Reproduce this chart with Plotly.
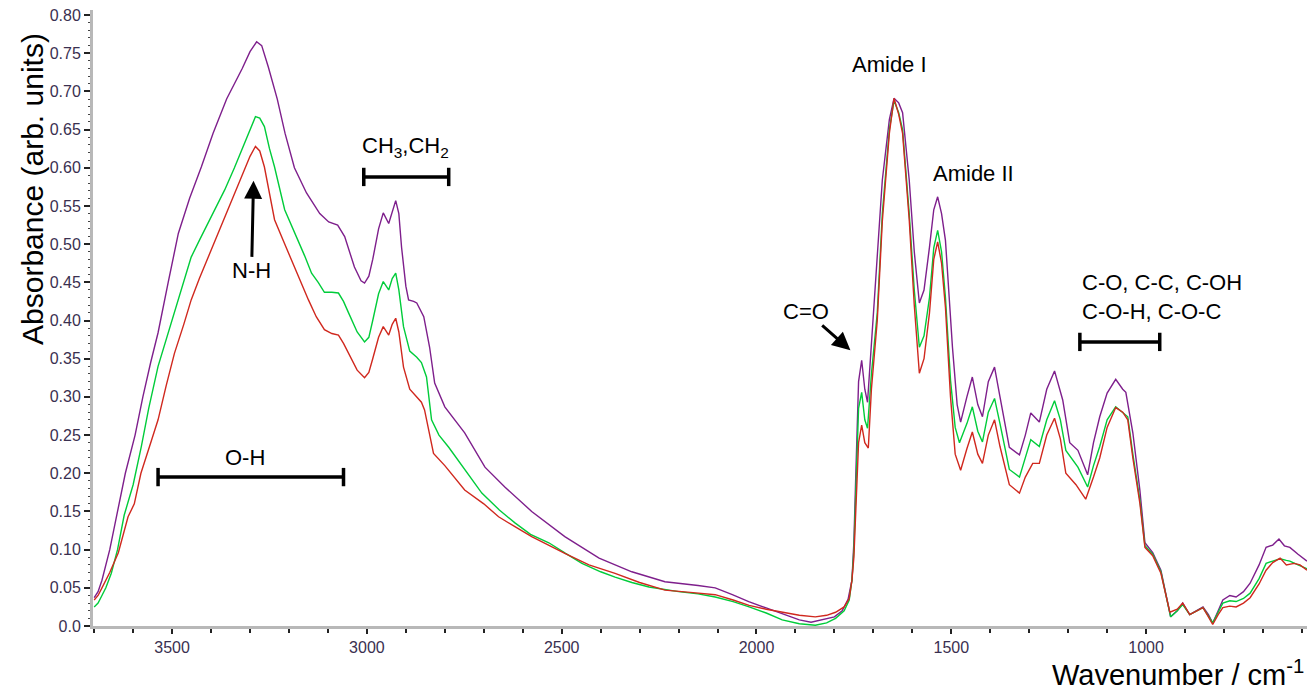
import plotly.graph_objects as go

# ---------------- data ----------------
wn_purple = [3700, 3690, 3680, 3670, 3660, 3640, 3620, 3595, 3575, 3555, 3536, 3510, 3484, 3455, 3425, 3395,
             3360, 3320, 3300, 3283, 3270, 3253, 3230, 3210, 3186, 3155, 3121, 3098, 3075, 3057, 3032, 3015,
             3006, 2995, 2985, 2970, 2958, 2944, 2934, 2926, 2918, 2911, 2900, 2893, 2880, 2872, 2854, 2839,
             2826, 2800, 2749, 2697, 2646, 2577, 2492, 2404, 2320, 2235, 2150, 2106, 2062, 2020, 1977, 1930,
             1890, 1860, 1830, 1800, 1780, 1765, 1755, 1750, 1745, 1738, 1730, 1722, 1715, 1705, 1694, 1677,
             1659, 1647, 1635, 1625, 1608, 1595, 1582, 1570, 1556, 1545, 1535, 1525, 1515, 1497, 1485, 1476,
             1460, 1446, 1432, 1420, 1405, 1389, 1375, 1351, 1325, 1310, 1296, 1274, 1255, 1235, 1214, 1196,
             1175, 1150, 1135, 1119, 1100, 1078, 1060, 1052, 1034, 1016, 1003, 983, 962, 945, 937, 920, 906,
             888, 870, 854, 840, 829, 815, 803, 785, 769, 750, 733, 710, 692, 675, 659, 645, 631, 610, 592, 587]
abs_purple = [0.037, 0.045, 0.060, 0.080, 0.100, 0.150, 0.200, 0.250, 0.300, 0.345, 0.384, 0.450, 0.514, 0.560,
              0.601, 0.645, 0.690, 0.730, 0.752, 0.765, 0.760, 0.732, 0.690, 0.645, 0.600, 0.567, 0.540, 0.529,
              0.525, 0.510, 0.470, 0.452, 0.449, 0.458, 0.480, 0.520, 0.541, 0.527, 0.545, 0.557, 0.540, 0.496,
              0.445, 0.427, 0.425, 0.423, 0.405, 0.365, 0.318, 0.287, 0.253, 0.208, 0.182, 0.150, 0.117, 0.089,
              0.071, 0.058, 0.053, 0.050, 0.041, 0.032, 0.024, 0.015, 0.008, 0.005, 0.008, 0.012, 0.020, 0.035,
              0.060, 0.110, 0.200, 0.320, 0.348, 0.310, 0.293, 0.370, 0.453, 0.584, 0.663, 0.691, 0.685, 0.672,
              0.584, 0.490, 0.423, 0.440, 0.496, 0.545, 0.562, 0.540, 0.505, 0.365, 0.290, 0.267, 0.300, 0.326,
              0.290, 0.274, 0.320, 0.339, 0.300, 0.234, 0.224, 0.250, 0.279, 0.267, 0.310, 0.334, 0.296, 0.240,
              0.230, 0.198, 0.240, 0.274, 0.305, 0.323, 0.310, 0.306, 0.253, 0.178, 0.109, 0.096, 0.073, 0.030,
              0.012, 0.020, 0.030, 0.015, 0.020, 0.025, 0.015, 0.004, 0.020, 0.034, 0.040, 0.038, 0.045, 0.056,
              0.080, 0.103, 0.106, 0.114, 0.105, 0.103, 0.094, 0.086, 0.085]

wn_green = [3700, 3690, 3680, 3670, 3656, 3640, 3623, 3600, 3579, 3560, 3536, 3515, 3494, 3470, 3451, 3430,
            3407, 3385, 3365, 3340, 3322, 3300, 3286, 3275, 3263, 3250, 3237, 3211, 3190, 3176, 3160, 3142,
            3125, 3109, 3090, 3073, 3060, 3047, 3025, 3006, 2995, 2985, 2970, 2958, 2944, 2935, 2926, 2918,
            2906, 2890, 2872, 2860, 2847, 2834, 2815, 2790, 2750, 2705, 2660, 2620, 2580, 2533, 2490, 2448,
            2400, 2363, 2320, 2276, 2200, 2150, 2106, 2060, 2019, 1975, 1934, 1890, 1849, 1820, 1797, 1775,
            1762, 1755, 1750, 1745, 1738, 1730, 1722, 1715, 1705, 1690, 1677, 1659, 1647, 1635, 1625, 1608,
            1595, 1582, 1570, 1556, 1545, 1535, 1525, 1515, 1502, 1490, 1479, 1460, 1446, 1432, 1420, 1405,
            1389, 1375, 1351, 1325, 1310, 1296, 1274, 1255, 1235, 1220, 1206, 1175, 1150, 1135, 1119, 1100,
            1078, 1060, 1047, 1034, 1016, 1003, 983, 962, 945, 937, 920, 906, 888, 870, 854, 840, 829, 815,
            803, 785, 769, 750, 733, 710, 692, 675, 656, 640, 631, 610, 592, 587]
abs_green = [0.025, 0.030, 0.040, 0.050, 0.069, 0.100, 0.145, 0.185, 0.235, 0.285, 0.340, 0.375, 0.410, 0.450,
             0.483, 0.505, 0.528, 0.550, 0.571, 0.600, 0.623, 0.650, 0.667, 0.665, 0.654, 0.625, 0.601, 0.545,
             0.520, 0.505, 0.485, 0.462, 0.450, 0.437, 0.437, 0.436, 0.425, 0.410, 0.385, 0.372, 0.378, 0.400,
             0.435, 0.451, 0.440, 0.455, 0.462, 0.440, 0.392, 0.360, 0.352, 0.345, 0.326, 0.270, 0.250, 0.234,
             0.205, 0.174, 0.152, 0.135, 0.120, 0.109, 0.095, 0.082, 0.071, 0.064, 0.057, 0.051, 0.045, 0.042,
             0.038, 0.032, 0.025, 0.017, 0.008, 0.003, 0.001, 0.004, 0.010, 0.020, 0.034, 0.060, 0.100, 0.180,
             0.285, 0.306, 0.270, 0.259, 0.330, 0.410, 0.540, 0.650, 0.688, 0.672, 0.650, 0.540, 0.440, 0.365,
             0.380, 0.430, 0.495, 0.518, 0.490, 0.430, 0.322, 0.260, 0.240, 0.265, 0.287, 0.255, 0.241, 0.280,
             0.298, 0.265, 0.205, 0.195, 0.220, 0.244, 0.235, 0.270, 0.295, 0.270, 0.230, 0.208, 0.182, 0.210,
             0.235, 0.270, 0.287, 0.280, 0.274, 0.225, 0.165, 0.105, 0.094, 0.071, 0.030, 0.012, 0.020, 0.028,
             0.015, 0.020, 0.024, 0.013, 0.004, 0.018, 0.030, 0.033, 0.032, 0.036, 0.043, 0.062, 0.082, 0.085,
             0.088, 0.086, 0.085, 0.080, 0.076, 0.075]

wn_red = [3700, 3690, 3680, 3670, 3660, 3638, 3613, 3597, 3580, 3553, 3536, 3515, 3494, 3470, 3451, 3430, 3407,
          3385, 3365, 3340, 3322, 3300, 3286, 3275, 3263, 3250, 3237, 3215, 3194, 3170, 3150, 3130, 3109, 3090,
          3073, 3060, 3047, 3025, 3006, 2995, 2985, 2970, 2958, 2944, 2935, 2926, 2918, 2906, 2890, 2872, 2860,
          2852, 2840, 2829, 2800, 2749, 2700, 2662, 2620, 2577, 2530, 2492, 2430, 2363, 2300, 2235, 2170, 2106,
          2060, 2019, 1975, 1934, 1890, 1849, 1820, 1797, 1775, 1762, 1755, 1750, 1745, 1738, 1730, 1722, 1713,
          1705, 1690, 1677, 1659, 1647, 1635, 1625, 1608, 1595, 1582, 1570, 1556, 1545, 1535, 1525, 1515, 1502,
          1490, 1476, 1460, 1446, 1432, 1420, 1405, 1389, 1375, 1351, 1325, 1310, 1291, 1274, 1255, 1235, 1220,
          1206, 1180, 1155, 1135, 1119, 1100, 1078, 1060, 1047, 1034, 1016, 1003, 983, 962, 945, 939, 920, 906,
          888, 870, 854, 840, 829, 815, 803, 785, 769, 750, 733, 710, 692, 675, 656, 640, 620, 605, 592, 587]
abs_red = [0.034, 0.040, 0.050, 0.060, 0.070, 0.096, 0.143, 0.160, 0.200, 0.243, 0.270, 0.315, 0.357, 0.395,
           0.427, 0.455, 0.483, 0.510, 0.536, 0.565, 0.588, 0.615, 0.628, 0.622, 0.601, 0.565, 0.532, 0.505,
           0.479, 0.450, 0.427, 0.405, 0.388, 0.383, 0.381, 0.370, 0.357, 0.335, 0.325, 0.332, 0.350, 0.378,
           0.392, 0.381, 0.395, 0.403, 0.385, 0.339, 0.310, 0.300, 0.293, 0.283, 0.255, 0.226, 0.210, 0.178,
           0.160, 0.143, 0.130, 0.117, 0.105, 0.095, 0.080, 0.069, 0.057, 0.047, 0.044, 0.041, 0.034, 0.027,
           0.022, 0.018, 0.014, 0.012, 0.014, 0.018, 0.025, 0.036, 0.060, 0.090, 0.160, 0.240, 0.263, 0.240,
           0.233, 0.310, 0.400, 0.530, 0.645, 0.691, 0.670, 0.645, 0.532, 0.420, 0.331, 0.350, 0.410, 0.480,
           0.503, 0.475, 0.417, 0.300, 0.225, 0.204, 0.232, 0.254, 0.225, 0.213, 0.250, 0.270, 0.235, 0.185,
           0.174, 0.195, 0.213, 0.213, 0.250, 0.272, 0.245, 0.200, 0.185, 0.166, 0.195, 0.220, 0.260, 0.286,
           0.280, 0.270, 0.220, 0.161, 0.103, 0.092, 0.069, 0.030, 0.018, 0.022, 0.030, 0.015, 0.020, 0.024,
           0.012, 0.002, 0.015, 0.024, 0.026, 0.025, 0.030, 0.037, 0.055, 0.073, 0.083, 0.089, 0.080, 0.082,
           0.080, 0.074, 0.073]

y_tick_vals = [0.0, 0.05, 0.10, 0.15, 0.20, 0.25, 0.30, 0.35, 0.40, 0.45, 0.50, 0.55, 0.60, 0.65, 0.70, 0.75, 0.80]
y_tick_text = ["0.0", "0.05", "0.10", "0.15", "0.20", "0.25", "0.30", "0.35", "0.40", "0.45", "0.50",
               "0.55", "0.60", "0.65", "0.70", "0.75", "0.80"]
x_tick_vals = [3500, 3000, 2500, 2000, 1500, 1000]
x_tick_text = ["3500", "3000", "2500", "2000", "1500", "1000"]

# band labels (text, wavenumber, absorbance)
label_text = ["Amide I", "Amide II", "O-H", "CH<sub>3</sub>,CH<sub>2</sub>",
              "C-O, C-C, C-OH<br>C-O-H, C-O-C"]
label_x = [1659, 1443, 3312, 2900, 1170]
label_y = [0.735, 0.593, 0.221, 0.627, 0.431]
label_anchor = ["center", "center", "center", "center", "left"]

# range brackets (from, to, level)
bracket_from = [3536, 3008, 1170]
bracket_to = [3060, 2790, 965]
bracket_level = [0.195, 0.588, 0.372]

# arrows: label sits at the tail, arrow points to the tip
arrow_text = ["N-H", "C=O"]
arrow_tip_x = [3291, 1759]
arrow_tip_y = [0.583, 0.361]
arrow_label_x = [3296, 1872]
arrow_label_y = [0.465, 0.412]

# ---------------- figure ----------------
FONT = "Arial, Liberation Sans, sans-serif"
fig = go.Figure()
for wn, ab, col in [(wn_purple, abs_purple, "#7e1f8c"),
                    (wn_green, abs_green, "#00cc3a"),
                    (wn_red, abs_red, "#d0281e")]:
    fig.add_trace(go.Scatter(x=wn, y=ab, mode="lines", line=dict(color=col, width=1.4),
                             showlegend=False, hoverinfo="skip"))

for t, x, y, a in zip(label_text, label_x, label_y, label_anchor):
    fig.add_annotation(x=x, y=y, xref="x", yref="y", text=t, showarrow=False, xanchor=a,
                       align="left", font=dict(family=FONT, size=22, color="black"))

cap = 0.012
for x0, x1, lv in zip(bracket_from, bracket_to, bracket_level):
    line = dict(color="black", width=3.5)
    fig.add_shape(type="line", xref="x", yref="y", x0=x0, x1=x1, y0=lv, y1=lv, line=line)
    fig.add_shape(type="line", xref="x", yref="y", x0=x0, x1=x0, y0=lv - cap, y1=lv + cap, line=line)
    fig.add_shape(type="line", xref="x", yref="y", x0=x1, x1=x1, y0=lv - cap, y1=lv + cap, line=line)

for t, tx, ty, lx, ly in zip(arrow_text, arrow_tip_x, arrow_tip_y, arrow_label_x, arrow_label_y):
    fig.add_annotation(x=tx, y=ty, xref="x", yref="y", ax=lx, ay=ly, axref="x", ayref="y",
                       text=t, showarrow=True, arrowhead=2, arrowsize=1.2, arrowwidth=3,
                       arrowcolor="black", font=dict(family=FONT, size=22, color="black"))

# axis titles
fig.add_annotation(x=-0.05, y=0.71, xref="paper", yref="paper", xanchor="center", yanchor="middle",
                   text="Absorbance (arb. units)", textangle=-90, showarrow=False,
                   font=dict(family=FONT, size=30, color="black"))
fig.add_annotation(x=0.999, y=-0.076, xref="paper", yref="paper", xanchor="right", yanchor="middle",
                   text="Wavenumber / cm<sup>-1</sup>", showarrow=False,
                   font=dict(family=FONT, size=29, color="black"))

tick_font = dict(family=FONT, size=16, color="#3a3050")
fig.update_xaxes(range=[3703, 587], tickvals=x_tick_vals, ticktext=x_tick_text, showgrid=False,
                 zeroline=False, showline=True, linecolor="#b8b8b8", linewidth=3,
                 ticks="outside", ticklen=5, tickwidth=1.5, tickcolor="#222", tickfont=tick_font,
                 minor=dict(ticks="outside", dtick=100, tick0=0, ticklen=4, tickwidth=1.5, tickcolor="#222"))
fig.update_yaxes(range=[0, 0.8066], tickvals=y_tick_vals, ticktext=y_tick_text, showgrid=False,
                 zeroline=False, showline=True, linecolor="#b8b8b8", linewidth=3,
                 ticks="outside", ticklen=6, tickwidth=1.5, tickcolor="#222", tickfont=tick_font,
                 minor=dict(ticks="outside", dtick=0.01, tick0=0, ticklen=2, tickwidth=1, tickcolor="#444"))
fig.update_layout(width=1307, height=697, margin=dict(l=93, r=0, t=10, b=71),
                  plot_bgcolor="white", paper_bgcolor="white", showlegend=False)

fig.write_html("out.html")
